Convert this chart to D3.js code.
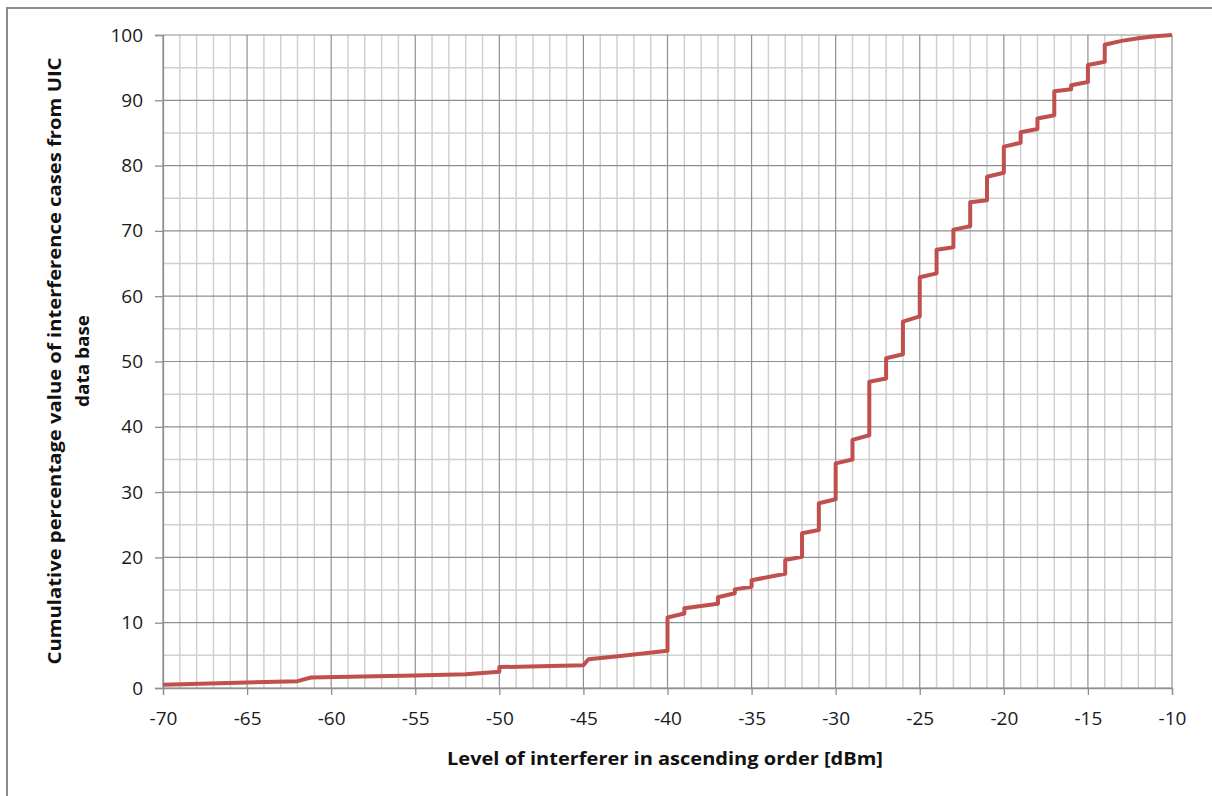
<!DOCTYPE html>
<html>
<head>
<meta charset="utf-8">
<script src="https://cdn.jsdelivr.net/npm/d3@7"></script>
<style>
  body { margin: 0; background: #fff; }
  svg { display: block; }
</style>
</head>
<body>
<div id="chart"></div>
<script>
// curve points (level in dBm, cumulative %)
const level = [-70, -62, -61.2, -55, -52, -50, -50, -45, -44.7, -42.8, -40, -40,
  -39, -39, -37, -37, -36, -36, -35, -35, -33, -33, -32, -32, -31, -31,
  -30, -30, -29, -29, -28, -28, -27, -27, -26, -26, -25, -25, -24, -24,
  -23, -23, -22, -22, -21, -21, -20, -20, -19, -19, -18, -18, -17, -17,
  -16, -16, -15, -15, -14, -14, -13, -12, -11, -10];
const percent = [0.5, 1.05, 1.6, 1.9, 2.1, 2.5, 3.2, 3.5, 4.4, 4.9, 5.7, 10.8,
  11.4, 12.2, 12.9, 13.9, 14.5, 15.1, 15.5, 16.5, 17.5, 19.6, 20.1, 23.7, 24.2, 28.3,
  28.9, 34.4, 35.0, 38.0, 38.7, 46.9, 47.4, 50.5, 51.1, 56.1, 56.9, 62.9, 63.5, 67.1,
  67.5, 70.2, 70.7, 74.4, 74.7, 78.3, 78.9, 82.9, 83.5, 85.1, 85.6, 87.2, 87.7, 91.4,
  91.7, 92.3, 92.8, 95.4, 95.9, 98.5, 99.1, 99.5, 99.8, 100];

const xTicks = [-70, -65, -60, -55, -50, -45, -40, -35, -30, -25, -20, -15, -10];
const yTicks = [0, 10, 20, 30, 40, 50, 60, 70, 80, 90, 100];
const xTitle = "Level of interferer in ascending order [dBm]";
const yTitle = ["Cumulative percentage value of interference cases from UIC", "data base"];

const width = 1212, height = 796;
const plotLeft = 163, plotRight = 1172, plotTop = 35, plotBottom = 688;

const svg = d3.select("#chart").append("svg")
  .attr("width", width)
  .attr("height", height);

// outer chart frame (runs off the right and bottom edges)
svg.append("rect")
  .attr("x", 7).attr("y", 8)
  .attr("width", 1230).attr("height", 820)
  .attr("fill", "none")
  .attr("stroke", "#8c8c8c")
  .attr("stroke-width", 2);

const x = d3.scaleLinear().domain([-70, -10]).range([plotLeft, plotRight]);
const y = d3.scaleLinear().domain([0, 100]).range([plotBottom, plotTop]);

// minor grid
svg.append("g")
  .selectAll("line")
  .data(d3.range(-70, -9, 1).filter(d => d % 5 !== 0))
  .join("line")
  .attr("x1", d => x(d)).attr("x2", d => x(d))
  .attr("y1", plotTop).attr("y2", plotBottom)
  .attr("stroke", "#d0d0d0").attr("stroke-width", 1.5);

svg.append("g")
  .selectAll("line")
  .data(d3.range(5, 100, 10))
  .join("line")
  .attr("x1", plotLeft).attr("x2", plotRight)
  .attr("y1", d => y(d)).attr("y2", d => y(d))
  .attr("stroke", "#d0d0d0").attr("stroke-width", 1.5);

// major grid
svg.append("g")
  .selectAll("line")
  .data(xTicks)
  .join("line")
  .attr("x1", d => x(d)).attr("x2", d => x(d))
  .attr("y1", plotTop).attr("y2", plotBottom)
  .attr("stroke", "#8f8f8f").attr("stroke-width", 1.2);

svg.append("g")
  .selectAll("line")
  .data(yTicks)
  .join("line")
  .attr("x1", plotLeft).attr("x2", plotRight)
  .attr("y1", d => y(d)).attr("y2", d => y(d))
  .attr("stroke", "#8f8f8f").attr("stroke-width", 1.2);

// axes
const xAxis = svg.append("g")
  .attr("transform", `translate(0,${plotBottom})`)
  .call(d3.axisBottom(x).tickValues(xTicks).tickFormat(d => String(d))
    .tickSize(7).tickPadding(17));

const yAxis = svg.append("g")
  .attr("transform", `translate(${plotLeft},0)`)
  .call(d3.axisLeft(y).tickValues(yTicks).tickFormat(d => String(d))
    .tickSize(8).tickPadding(12));

[xAxis, yAxis].forEach(a => {
  a.select(".domain").attr("stroke", "#8f8f8f").attr("stroke-width", 1.3);
  a.selectAll(".tick line").attr("stroke", "#8f8f8f").attr("stroke-width", 1.3);
  a.selectAll(".tick text")
    .attr("fill", "#1a1a1a")
    .style("font-family", "'Open Sans', sans-serif")
    .style("font-size", "19px");
});

// the curve
const line = d3.line()
  .x((d, i) => x(level[i]))
  .y((d, i) => y(percent[i]));

svg.append("path")
  .attr("d", line(level))
  .attr("fill", "none")
  .attr("stroke", "#c0504d")
  .attr("stroke-width", 4)
  .attr("stroke-linejoin", "round");

// titles
svg.append("text")
  .text(xTitle)
  .attr("x", 665)
  .attr("y", 765)
  .attr("text-anchor", "middle")
  .attr("textLength", 436)
  .attr("lengthAdjust", "spacingAndGlyphs")
  .style("font-family", "'Open Sans', sans-serif")
  .style("font-weight", "bold")
  .style("font-size", "18px")
  .attr("fill", "#111");

svg.append("text")
  .attr("transform", "translate(61,361) rotate(-90)")
  .attr("text-anchor", "middle")
  .style("font-family", "'Open Sans', sans-serif")
  .style("font-weight", "bold")
  .style("font-size", "18px")
  .attr("fill", "#111")
  .selectAll("tspan")
  .data(yTitle)
  .join("tspan")
  .attr("x", 0)
  .attr("dy", (d, i) => i === 0 ? 0 : 28)
  .attr("textLength", (d, i) => i === 0 ? 607 : 92)
  .attr("lengthAdjust", "spacingAndGlyphs")
  .text(d => d);
</script>
</body>
</html>
